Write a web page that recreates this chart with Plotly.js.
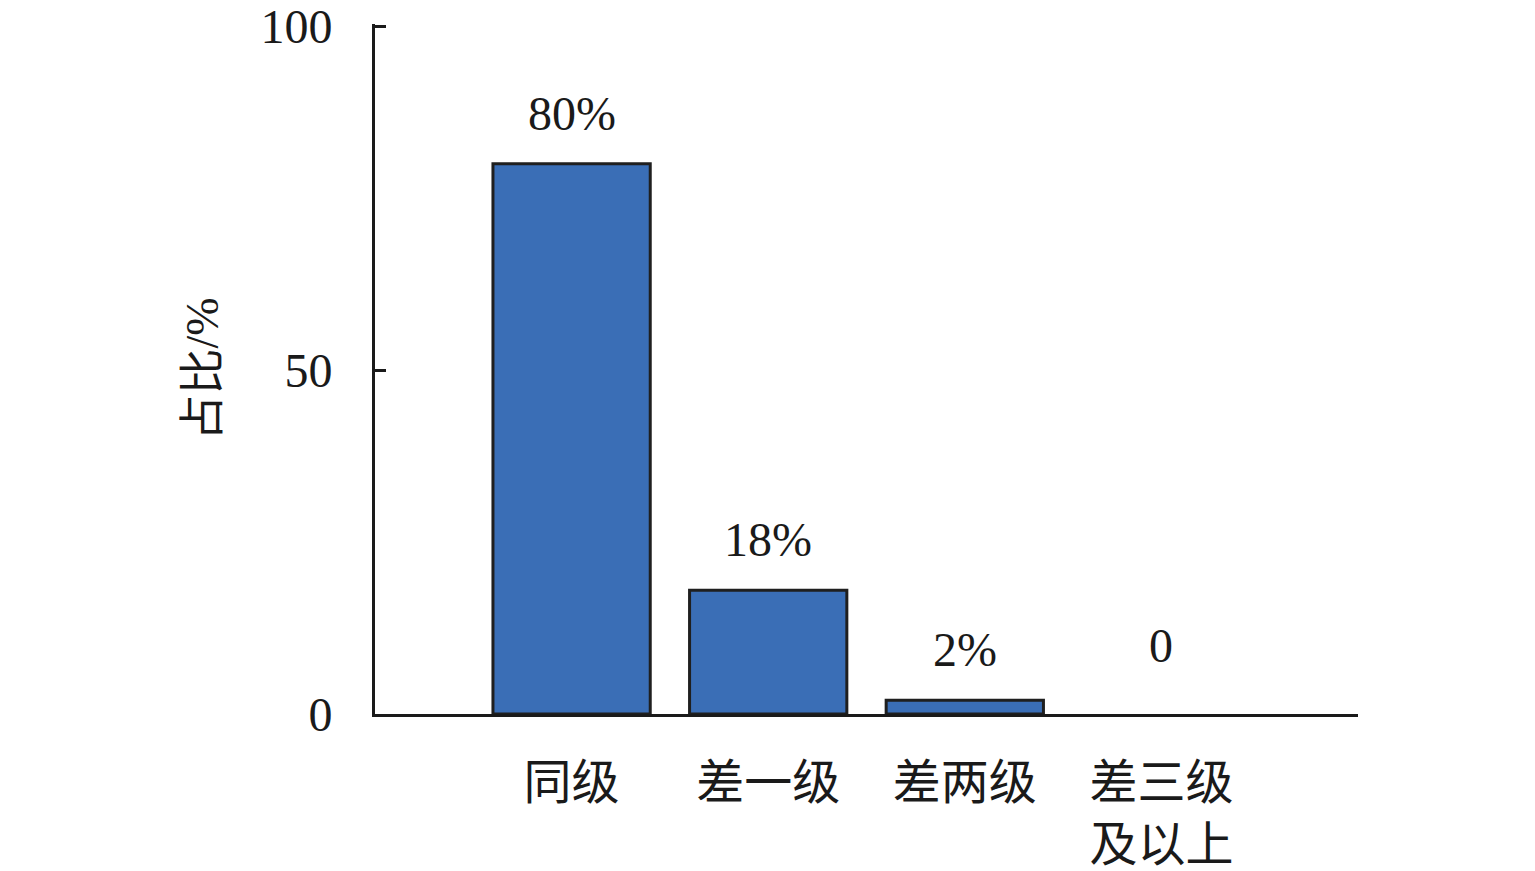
<!DOCTYPE html>
<html>
<head>
<meta charset="utf-8">
<script src="https://cdn.plot.ly/plotly-3.0.1.min.js"></script>
<style>html,body{margin:0;padding:0;background:#fff;}#chart{width:1535px;height:871px;}</style>
</head>
<body>
<div id="chart"></div>
<script>
const categories = ['同级', '差一级', '差两级', '差三级<br>及以上'];
const values = [80, 18, 2, 0];
const valueLabels = ['80%', '18%', '2%', '0'];
const yTickVals = [0, 50, 100];
const yTickText = ['0', '50', '100'];

const FONT = '"Liberation Serif", "Times New Roman", "Noto Sans CJK SC", serif';

const trace = {
  type: 'bar',
  x: categories,
  y: values,
  width: 0.8,
  marker: {
    color: '#3A6EB6',
    line: { color: '#1f1f1f', width: values.map(v => v === 0 ? 0 : 3) }
  },
  hoverinfo: 'none'
};

const annotations = categories.map((c, i) => ({
  x: c, y: values[i], xref: 'x', yref: 'y',
  text: valueLabels[i], showarrow: false,
  yanchor: 'bottom', yshift: values[i] === 0 ? 40 : 22,
  font: { family: FONT, size: 48, color: '#1a1a1a' }
}));

const layout = {
  width: 1535, height: 871,
  margin: { l: 375, r: 177, t: 24, b: 157 },
  paper_bgcolor: '#fff', plot_bgcolor: '#fff',
  showlegend: false,
  bargap: 0.2,
  font: { family: FONT, color: '#1a1a1a' },
  xaxis: {
    type: 'category',
    range: [-1, 4],
    showline: true, linecolor: '#1a1a1a', linewidth: 3,
    ticks: '', showgrid: false, zeroline: false,
    tickfont: { family: FONT, size: 48, color: '#1a1a1a' },
    ticklabelstandoff: 24
  },
  yaxis: {
    range: [0, 100.3],
    tickvals: yTickVals, ticktext: yTickText,
    showline: true, linecolor: '#1a1a1a', linewidth: 3,
    ticks: 'inside', ticklen: 11, tickwidth: 3, tickcolor: '#1a1a1a',
    showgrid: false, zeroline: false,
    tickfont: { family: FONT, size: 48, color: '#1a1a1a' },
    ticklabelstandoff: 30,
    ticklabeloverflow: 'allow',
    title: { text: '占比/%', font: { family: FONT, size: 46, color: '#1a1a1a' }, standoff: 28 }
  },
  annotations: annotations
};

Plotly.newPlot('chart', [trace], layout, { staticPlot: true, displayModeBar: false });
</script>
</body>
</html>
